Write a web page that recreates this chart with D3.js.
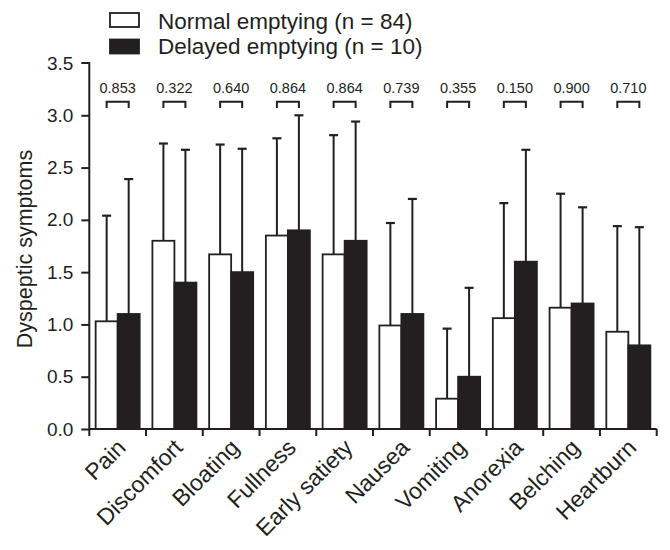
<!DOCTYPE html>
<html>
<head>
<meta charset="utf-8">
<script src="https://cdn.jsdelivr.net/npm/d3@7"></script>
<style>
  body { margin: 0; background: #fff; }
  svg text { font-family: "Liberation Sans", Arial, Helvetica, sans-serif; fill: #231f20; }
</style>
</head>
<body>
<svg id="chart" width="670" height="550"></svg>
<script>
const categories = ["Pain", "Discomfort", "Bloating", "Fullness", "Early satiety", "Nausea", "Vomiting", "Anorexia", "Belching", "Heartburn"];
const seriesNames = ["Normal emptying (n = 84)", "Delayed emptying (n = 10)"];
const normalMean = [1.03, 1.80, 1.67, 1.85, 1.67, 0.99, 0.29, 1.06, 1.16, 0.93];
const normalUpper = [2.04, 2.73, 2.72, 2.78, 2.81, 1.97, 0.96, 2.16, 2.25, 1.94];
const delayedMean = [1.10, 1.40, 1.50, 1.90, 1.80, 1.10, 0.50, 1.60, 1.20, 0.80];
const delayedUpper = [2.39, 2.67, 2.68, 3.00, 2.94, 2.20, 1.35, 2.67, 2.12, 1.93];
const pValues = ["0.853", "0.322", "0.640", "0.864", "0.864", "0.739", "0.355", "0.150", "0.900", "0.710"];
const yTicks = [0, 0.5, 1.0, 1.5, 2.0, 2.5, 3.0, 3.5];
const yTitle = "Dyspeptic symptoms";

const ink = "#231f20";
const svg = d3.select("#chart");

const x0 = d3.scaleBand().domain(categories).range([89.3, 656.7]).paddingInner(0.224).paddingOuter(0.112);
const x1 = d3.scaleBand().domain([0, 1]).range([0, x0.bandwidth()]);
const y = d3.scaleLinear().domain([0, 3.5]).range([429, 63]);

const data = categories.map((c, i) => ({
  cat: c,
  p: pValues[i],
  bars: [
    { s: 0, mean: normalMean[i], upper: normalUpper[i] },
    { s: 1, mean: delayedMean[i], upper: delayedUpper[i] }
  ]
}));

// bars + error bars
const groups = svg.append("g").selectAll("g").data(data).join("g")
  .attr("transform", d => `translate(${x0(d.cat)},0)`);

groups.selectAll("line.err").data(d => d.bars).join("line")
  .attr("class", "err")
  .attr("x1", d => x1(d.s) + x1.bandwidth() / 2)
  .attr("x2", d => x1(d.s) + x1.bandwidth() / 2)
  .attr("y1", d => y(d.mean))
  .attr("y2", d => y(d.upper))
  .attr("stroke", ink).attr("stroke-width", 2);

groups.selectAll("line.cap").data(d => d.bars).join("line")
  .attr("class", "cap")
  .attr("x1", d => x1(d.s) + x1.bandwidth() / 2 - 4.5)
  .attr("x2", d => x1(d.s) + x1.bandwidth() / 2 + 4.5)
  .attr("y1", d => y(d.upper))
  .attr("y2", d => y(d.upper))
  .attr("stroke", ink).attr("stroke-width", 2.2);

groups.selectAll("rect").data(d => d.bars).join("rect")
  .attr("x", d => x1(d.s))
  .attr("width", x1.bandwidth())
  .attr("y", d => y(d.mean))
  .attr("height", d => y(0) - y(d.mean))
  .attr("fill", d => d.s === 0 ? "#fff" : ink)
  .attr("stroke", ink).attr("stroke-width", 1.8);

// p-value brackets
const bracketTop = 101.7, bracketBottom = 108;
groups.append("path")
  .attr("d", () => {
    const a = x1(0) + x1.bandwidth() / 2, b = x1(1) + x1.bandwidth() / 2;
    return `M${a},${bracketBottom}V${bracketTop}H${b}V${bracketBottom}`;
  })
  .attr("fill", "none").attr("stroke", ink).attr("stroke-width", 2);

groups.append("text")
  .attr("x", x0.bandwidth() / 2)
  .attr("y", 93.3)
  .attr("text-anchor", "middle")
  .attr("font-size", "14.5px")
  .text(d => d.p);

// y axis
const yAxis = svg.append("g").attr("transform", "translate(89.3,0)")
  .call(d3.axisLeft(y).tickValues(yTicks).tickFormat(d3.format(".1f")).tickSize(8).tickPadding(8));
yAxis.select(".domain").attr("d", `M-8,${y(3.5)}H0V${y(0)}`).attr("stroke", ink).attr("stroke-width", 2);
yAxis.selectAll(".tick line").attr("stroke", ink).attr("stroke-width", 2);
yAxis.selectAll(".tick text").attr("font-size", "19px").attr("fill", ink)
  .style("font-family", '"Liberation Sans", Arial, sans-serif');
yAxis.selectAll(".tick").filter(d => d === 3.5).select("line").remove();

// x axis with boundary ticks
const boundaries = categories.map(c => x0(c) - x0.step() * x0.paddingInner() / 2);
boundaries.push(656.7);
const xa = svg.append("g");
xa.append("line").attr("x1", 89.3).attr("x2", 656.7).attr("y1", y(0)).attr("y2", y(0))
  .attr("stroke", ink).attr("stroke-width", 2);
xa.selectAll("line.t").data(boundaries).join("line").attr("class", "t")
  .attr("x1", d => d).attr("x2", d => d).attr("y1", y(0)).attr("y2", y(0) + 7)
  .attr("stroke", ink).attr("stroke-width", 2);

xa.selectAll("text").data(categories).join("text")
  .attr("transform", d => `translate(${x0(d) + x0.bandwidth() / 2 + 9.5},449) rotate(-45)`)
  .attr("text-anchor", "end")
  .attr("font-size", "23px")
  .text(d => d);

// y title
svg.append("text")
  .attr("transform", "translate(32,249) rotate(-90)")
  .attr("text-anchor", "middle")
  .attr("font-size", "21.5px")
  .text(yTitle);

// legend
const legend = svg.append("g");
const legendRows = [{ name: seriesNames[0], fill: "#fff", top: 13, base: 28.5 }, { name: seriesNames[1], fill: ink, top: 39.5, base: 54 }];
legend.selectAll("rect").data(legendRows).join("rect")
  .attr("x", 110).attr("y", d => d.top).attr("width", 29).attr("height", 14)
  .attr("fill", d => d.fill).attr("stroke", ink).attr("stroke-width", 1.8);
legend.selectAll("text").data(legendRows).join("text")
  .attr("x", 158).attr("y", d => d.base)
  .attr("font-size", "22.5px")
  .text(d => d.name);
</script>
</body>
</html>
